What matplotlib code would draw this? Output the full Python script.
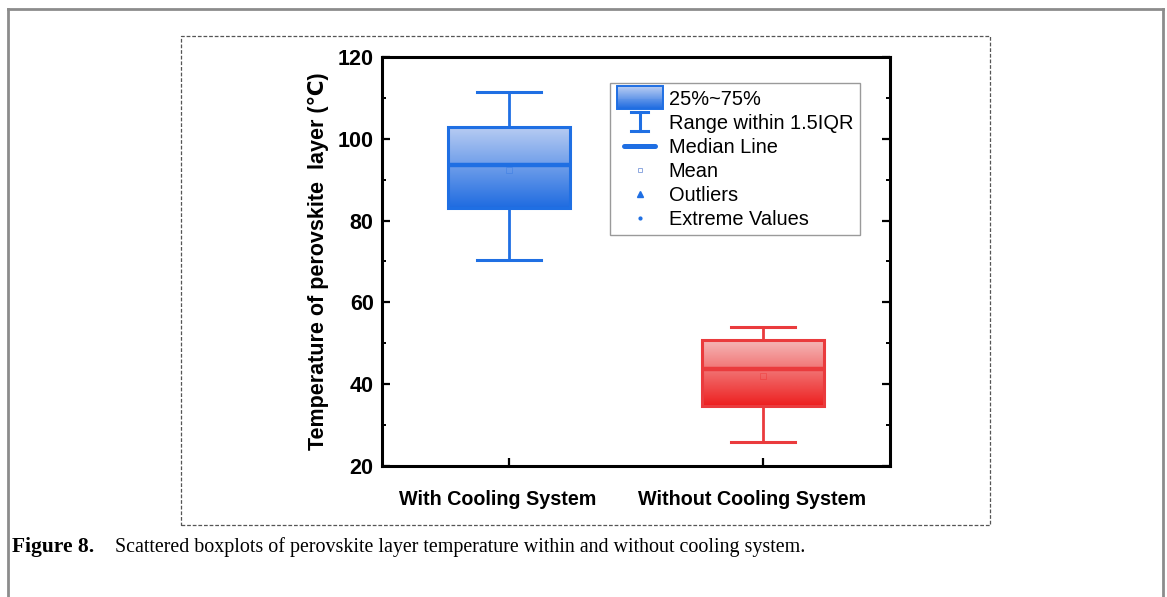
import numpy as np
import matplotlib
matplotlib.use("Agg")
import matplotlib.pyplot as plt
import matplotlib.transforms as mtransforms
from matplotlib.patches import Rectangle
from matplotlib.lines import Line2D
from matplotlib.legend_handler import HandlerBase

# Box statistics for the two cases (°C)
categories = ["With Cooling System", "Without Cooling System"]
whisker_low = [70.4, 25.9]
q1 = [83.2, 34.6]
median = [93.5, 43.6]
mean = [92.4, 41.9]
q3 = [103.0, 50.7]
whisker_high = [111.5, 54.0]

y_ticks = [20, 40, 60, 80, 100, 120]
legend_labels = ["25%~75%", "Range within 1.5IQR", "Median Line", "Mean",
                 "Outliers", "Extreme Values"]

edge_colors = ["#1f6fe3", "#ea3b3d"]
grad_top = [(0.72, 0.80, 0.95), (0.96, 0.72, 0.72)]
grad_bottom = [(0.12, 0.42, 0.88), (0.93, 0.12, 0.12)]

W, H, DPI = 1167, 597, 100
fig = plt.figure(figsize=(W / DPI, H / DPI), dpi=DPI)
fig.patch.set_facecolor("white")


def px(x, y):
    """Pixel position (from top-left) to figure fraction."""
    return x / W, 1 - y / H


# Page frame and dashed figure frame
for (x0, y0), (x1, y1) in [((8, 597), (8, 9)), ((8, 9), (1163, 9)), ((1163, 9), (1163, 597))]:
    a, b = px(x0, y0)
    c, d = px(x1, y1)
    fig.add_artist(Line2D([a, c], [b, d], color="#8c8c8c", lw=2.0))

bx0, by0 = px(181, 525)
bx1, by1 = px(990, 36)
fig.add_artist(Rectangle((bx0, by0), bx1 - bx0, by1 - by0, fill=False,
                         ls=(0, (3, 1.5)), lw=0.9, edgecolor="#555555",
                         transform=fig.transFigure))

# Axes area
ax_l, ax_b = px(382, 466)
ax_r, ax_t = px(890, 57)
ax = fig.add_axes([ax_l, ax_b, ax_r - ax_l, ax_t - ax_b])

positions = [1, 2]
box_w = 0.48
cap_w = 0.25

for i, pos in enumerate(positions):
    # Vertical gradient fill of the box
    n = 256
    t = np.linspace(0, 1, n)[:, None]
    top = np.array(grad_top[i])
    bot = np.array(grad_bottom[i])
    img = (top[None, :] * (1 - t) + bot[None, :] * t)[:, None, :]
    img = np.repeat(img, 2, axis=1)
    ax.imshow(img, extent=[pos - box_w / 2, pos + box_w / 2, q1[i], q3[i]],
              aspect="auto", origin="upper", zorder=2, interpolation="bilinear")

stats = []
for i in range(len(categories)):
    stats.append(dict(med=median[i], q1=q1[i], q3=q3[i], whislo=whisker_low[i],
                      whishi=whisker_high[i], mean=mean[i], fliers=[], label=categories[i]))

for i, pos in enumerate(positions):
    c = edge_colors[i]
    ax.bxp([stats[i]], positions=[pos], widths=box_w, showmeans=True, showfliers=False,
           patch_artist=True,
           boxprops=dict(facecolor="none", edgecolor=c, linewidth=2.2),
           medianprops=dict(color=c, linewidth=3.2, solid_capstyle="butt"),
           whiskerprops=dict(color=c, linewidth=2.0),
           capprops=dict(color=c, linewidth=2.2),
           capwidths=cap_w,
           meanprops=dict(marker="s", markersize=4, markerfacecolor="none",
                          markeredgecolor=(*grad_bottom[i], 0.35), markeredgewidth=0.6),
           zorder=3)

ax.set_xlim(0.5, 2.5)
ax.set_ylim(20, 120)
ax.set_yticks(y_ticks)
ax.set_yticks(np.arange(30, 120, 20), minor=True)
ax.set_xticks(positions)
ax.set_xticklabels(categories)

for s in ax.spines.values():
    s.set_linewidth(2.2)
    s.set_color("black")

ax.tick_params(axis="y", which="major", direction="in", length=6, width=1.6,
               labelsize=15.5, right=True, pad=6)
ax.tick_params(axis="y", which="minor", direction="in", length=3, width=1.4, right=True)
ax.tick_params(axis="x", which="major", direction="in", length=6, width=1.6,
               labelsize=14.2, pad=17)
for lab in ax.get_yticklabels() + ax.get_xticklabels():
    lab.set_fontfamily(["Liberation Sans", "DejaVu Sans"])
    lab.set_fontweight("bold")
shift = mtransforms.ScaledTranslation(-11 / DPI, 0, fig.dpi_scale_trans)
for lab in ax.get_xticklabels():
    lab.set_transform(lab.get_transform() + shift)

ax.set_ylabel("Temperature of perovskite  layer (\u2103)", fontsize=15.5,
              fontweight="bold", family=["Liberation Sans", "DejaVu Sans"], labelpad=6)


# Legend handlers
class GradientBoxHandler(HandlerBase):
    def create_artists(self, legend, orig_handle, xdescent, ydescent, width, height,
                       fontsize, trans):
        arts = []
        n = 24
        top = np.array(grad_top[0])
        bot = np.array(grad_bottom[0])
        h = height * 1.6
        y0 = -ydescent + height / 2 - h / 2
        for k in range(n):
            f = k / (n - 1)
            col = bot * (1 - f) + top * f
            arts.append(Rectangle((-xdescent, y0 + h * k / n), width, h / n + 0.3,
                                  facecolor=col, edgecolor="none", transform=trans))
        arts.append(Rectangle((-xdescent, y0), width, h, facecolor="none",
                              edgecolor=edge_colors[0], lw=1.4, transform=trans))
        return arts


class RangeHandler(HandlerBase):
    def create_artists(self, legend, orig_handle, xdescent, ydescent, width, height,
                       fontsize, trans):
        cx = -xdescent + width * 0.5
        y0 = -ydescent - height * 0.2
        y1 = -ydescent + height * 1.2
        cw = width * 0.19
        kw = dict(color=edge_colors[0], lw=2.2, transform=trans)
        return [Line2D([cx, cx], [y0, y1], **kw),
                Line2D([cx - cw, cx + cw], [y0, y0], **kw),
                Line2D([cx - cw, cx + cw], [y1, y1], **kw)]


class CenteredLineHandler(HandlerBase):
    def create_artists(self, legend, orig_handle, xdescent, ydescent, width, height,
                       fontsize, trans):
        cx = -xdescent + width * 0.5
        y = -ydescent + height / 2
        hw = width * 0.33
        return [Line2D([cx - hw, cx + hw], [y, y], color=edge_colors[0], lw=3.6,
                       solid_capstyle="round", transform=trans)]


box_h = Rectangle((0, 0), 1, 1)
range_h = Line2D([], [])
median_h = Line2D([], [], color=edge_colors[0], lw=3.2)
mean_h = Line2D([], [], ls="none", marker="s", markersize=3.5, markerfacecolor="none",
                markeredgecolor="#8fa9e0", markeredgewidth=0.7)
outlier_h = Line2D([], [], ls="none", marker="^", markersize=3.8, color=edge_colors[0])
extreme_h = Line2D([], [], ls="none", marker="o", markersize=2.0, color=edge_colors[0])

leg = ax.legend([box_h, range_h, median_h, mean_h, outlier_h, extreme_h], legend_labels,
                handler_map={box_h: GradientBoxHandler(), range_h: RangeHandler(),
                             median_h: CenteredLineHandler()},
                loc="upper right", bbox_to_anchor=(0.94, 0.936),
                prop=dict(family=["Liberation Sans", "DejaVu Sans"], size=14.4),
                frameon=True, fancybox=False, edgecolor="#9a9a9a", framealpha=1,
                borderpad=0.32, labelspacing=0.25, handlelength=2.3, handletextpad=0.3,
                borderaxespad=0)
leg.get_frame().set_linewidth(1.0)

# Caption
cx, cy = px(12, 547)
fig.text(cx, cy, "Figure 8.", family=["Liberation Serif", "DejaVu Serif"],
         weight="bold", fontsize=15.5, va="center", ha="left")
cx2, _ = px(115, 547)
fig.text(cx2, cy, "Scattered boxplots of perovskite layer temperature within and without cooling system.",
         family=["Liberation Serif", "DejaVu Serif"], fontsize=14.4, va="center", ha="left")

fig.savefig("out.png", dpi=DPI)
